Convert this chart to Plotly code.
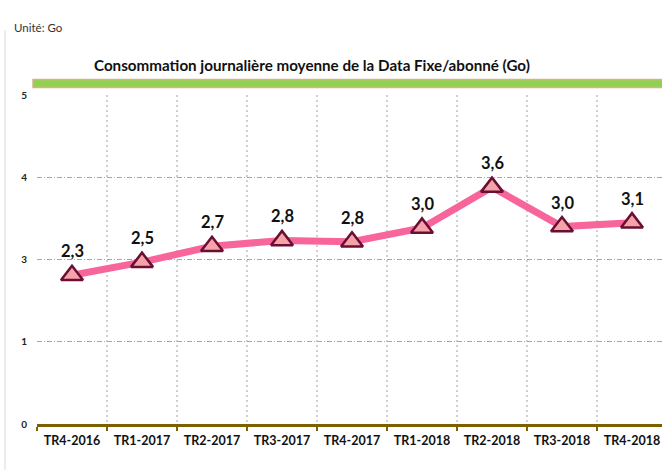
import plotly.graph_objects as go

categories = ["TR4-2016", "TR1-2017", "TR2-2017", "TR3-2017", "TR4-2017",
              "TR1-2018", "TR2-2018", "TR3-2018", "TR4-2018"]
values = [2.26, 2.46, 2.70, 2.79, 2.77, 2.98, 3.60, 3.00, 3.06]
y_tickvals = [0, 1.25, 2.5, 3.75, 5]
y_ticktext = ["0", "1", "3", "4", "5"]
title_text = "Consommation journalière moyenne de la Data Fixe/abonné (Go)"
unit_text = "Unité: Go"

labels = [f"{v:.1f}".replace(".", ",") for v in values]

W, H = 662, 470
ml, mt, mb = 37, 95, 46
pw = W - ml
ph = H - mt - mb

def px_to_paper_x(px):
    return (px - ml) / pw

def px_to_paper_y(py):
    return (H - mb - py) / ph

fig = go.Figure()
fig.add_trace(go.Scatter(
    x=categories, y=values,
    mode="lines+markers",
    line=dict(color="#F7659A", width=7),
    marker=dict(symbol="triangle-up", size=19, color="#F5A3A8",
                line=dict(color="#6A0F33", width=2.5)),
    cliponaxis=False, hoverinfo="skip",
))

annotations = [
    dict(x=c, y=v, text=t, xref="x", yref="y", showarrow=False,
         yshift=24, xanchor="center", yanchor="middle",
         font=dict(family="Lato", size=16.5, color="#111111", weight="bold"))
    for c, v, t in zip(categories, values, labels)
]
annotations += [
    dict(text=unit_text, xref="paper", yref="paper",
         x=px_to_paper_x(12), y=px_to_paper_y(27),
         xanchor="left", yanchor="middle", showarrow=False,
         font=dict(family="Lato", size=11.5, color="#333333")),
    dict(text=title_text, xref="paper", yref="paper",
         x=px_to_paper_x(312), y=px_to_paper_y(65),
         xanchor="center", yanchor="middle", showarrow=False,
         font=dict(family="Lato", size=15.2, color="#111111", weight="bold")),
]

fig.update_layout(
    width=W, height=H,
    margin=dict(l=ml, r=0, t=mt, b=mb),
    paper_bgcolor="white", plot_bgcolor="white",
    showlegend=False, hovermode=False,
    font=dict(family="Lato", color="#222222"),
    xaxis=dict(
        type="category", tickson="boundaries",
        range=[-0.5, 8.5 - 5 / 70],
        showgrid=True, griddash="2px,3px", gridcolor="#D0D0D0", gridwidth=2,
        showline=True, linecolor="#7F6000", linewidth=3,
        ticks="outside", ticklen=4, tickwidth=2, tickcolor="#7F6000",
        tickfont=dict(family="Lato", size=12.5, color="#111111", weight="bold"),
        ticklabelstandoff=3,
        zeroline=False,
    ),
    yaxis=dict(
        range=[0, 5], tickvals=y_tickvals, ticktext=y_ticktext,
        showgrid=True, griddash="5px,2px,1px,2px", gridcolor="#A8A8A8", gridwidth=1,
        showline=False, zeroline=False, ticks="",
        tickfont=dict(family="Lato", size=10, color="#222222", weight="bold"),
        ticklabelstandoff=9,
    ),
    shapes=[
        dict(type="rect", xref="paper", yref="paper",
             x0=px_to_paper_x(33), x1=1.02,
             y0=px_to_paper_y(87.5), y1=px_to_paper_y(79.5),
             fillcolor="#92D050", line=dict(color="#D2B48C", width=1.5),
             layer="above"),
        dict(type="line", xref="paper", yref="paper",
             x0=px_to_paper_x(5), x1=px_to_paper_x(5),
             y0=px_to_paper_y(30), y1=px_to_paper_y(470),
             line=dict(color="#D9D9D9", width=1)),
    ],
    annotations=annotations,
)

fig.write_html("out.html", config={"displayModeBar": False, "staticPlot": True},
               post_script="document.body.style.margin='0px';")
